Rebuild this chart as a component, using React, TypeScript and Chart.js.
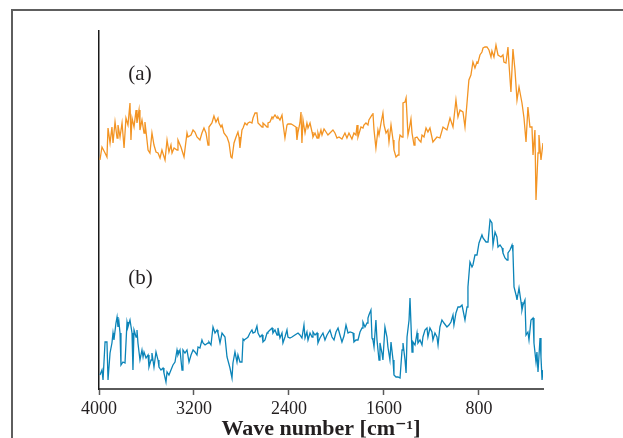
import React, { useEffect, useRef } from "react";
import { Chart, registerables } from "chart.js";

Chart.register(...registerables);

// Wavenumbers (cm^-1) and intensities (a.u.) for spectrum (a)
const waveA = [
  3992, 3975, 3949, 3933, 3924, 3907, 3891, 3882, 3865, 3848,
  3840, 3823, 3806, 3789, 3773, 3756, 3739, 3731, 3722, 3705,
  3688, 3680, 3663, 3655, 3638, 3621, 3613, 3596, 3587, 3571,
  3554, 3537, 3520, 3503, 3486, 3470, 3444, 3427, 3411, 3394,
  3385, 3368, 3343, 3335, 3310, 3284, 3259, 3251, 3225, 3208,
  3192, 3175, 3150, 3133, 3116, 3099, 3082, 3074, 3049, 3032,
  3015, 2998, 2990, 2973, 2964, 2948, 2922, 2905, 2889, 2880,
  2863, 2846, 2830, 2821, 2813, 2796, 2787, 2771, 2754, 2745,
  2729, 2712, 2703, 2686, 2670, 2661, 2644, 2627, 2619, 2602,
  2585, 2577, 2560, 2543, 2535, 2518, 2501, 2493, 2476, 2459,
  2451, 2434, 2417, 2409, 2383, 2367, 2341, 2333, 2324, 2308,
  2299, 2291, 2282, 2265, 2249, 2240, 2223, 2206, 2198, 2181,
  2164, 2156, 2147, 2131, 2122, 2105, 2088, 2072, 2055, 2030,
  2013, 1996, 1979, 1954, 1929, 1912, 1895, 1870, 1853, 1836,
  1827, 1819, 1794, 1777, 1769, 1752, 1735, 1727, 1701, 1693,
  1684, 1668, 1651, 1642, 1625, 1609, 1600, 1583, 1567, 1558,
  1541, 1524, 1516, 1499, 1482, 1474, 1465, 1448, 1440, 1423,
  1414, 1398, 1389, 1373, 1364, 1347, 1339, 1322, 1305, 1289,
  1280, 1263, 1246, 1230, 1213, 1188, 1154, 1129, 1103, 1070,
  1044, 1019, 994, 977, 960, 935, 918, 901, 885, 868,
  851, 834, 817, 809, 792, 775, 766, 750, 733, 716,
  699, 691, 674, 657, 640, 615, 598, 590, 573, 556,
  548, 531, 514, 497, 480, 463, 438, 421, 404, 388,
  371, 354, 345, 329, 320, 303, 295, 278, 261,
];
const intensityA = [
  229, 242, 236, 232, 261, 246, 262, 246, 267, 251,
  264, 252, 266, 241, 271, 264, 286, 249, 271, 262,
  279, 266, 279, 259, 269, 256, 267, 249, 239, 236,
  256, 244, 237, 236, 231, 239, 229, 249, 237, 244,
  236, 241, 239, 249, 242, 232, 256, 252, 254, 259,
  257, 252, 249, 256, 261, 256, 244, 262, 266, 273,
  267, 271, 266, 262, 264, 256, 252, 246, 232, 231,
  246, 252, 257, 252, 241, 259, 261, 266, 264, 266,
  267, 266, 271, 276, 276, 266, 264, 262, 266, 264,
  262, 266, 267, 272, 271, 274, 271, 272, 269, 274,
  266, 251, 264, 265, 265, 264, 262, 249, 257, 266,
  277, 246, 269, 256, 266, 261, 266, 257, 252, 256,
  251, 256, 252, 259, 254, 260, 257, 254, 256, 259,
  256, 251, 252, 250, 256, 251, 256, 250, 256, 254,
  264, 252, 262, 261, 264, 266, 264, 269, 274, 276,
  259, 241, 259, 254, 266, 276, 264, 256, 259, 247,
  264, 249, 239, 232, 234, 247, 254, 252, 286, 287,
  291, 254, 259, 270, 256, 244, 251, 252, 249, 247,
  254, 252, 261, 257, 261, 247, 252, 251, 262, 259,
  271, 262, 289, 272, 279, 277, 262, 286, 309, 314,
  327, 321, 327, 326, 334, 337, 341, 342, 342, 339,
  332, 338, 332, 344, 334, 332, 334, 327, 326, 342,
  326, 297, 340, 319, 289, 302, 286, 271, 247, 282,
  262, 262, 234, 259, 189, 236, 254, 229, 246,
];

// Wavenumbers (cm^-1) and intensities (a.u.) for spectrum (b)
const waveB = [
  3992, 3975, 3966, 3949, 3933, 3924, 3907, 3891, 3882, 3874,
  3857, 3848, 3840, 3832, 3823, 3815, 3798, 3781, 3764, 3756,
  3739, 3722, 3714, 3705, 3688, 3680, 3672, 3655, 3638, 3629,
  3621, 3604, 3587, 3579, 3562, 3554, 3537, 3520, 3503, 3495,
  3478, 3461, 3453, 3436, 3427, 3411, 3394, 3377, 3360, 3343,
  3335, 3318, 3301, 3293, 3276, 3259, 3242, 3225, 3208, 3192,
  3175, 3166, 3150, 3133, 3124, 3107, 3082, 3074, 3057, 3040,
  3023, 3006, 2998, 2981, 2964, 2956, 2939, 2922, 2914, 2897,
  2880, 2872, 2855, 2838, 2830, 2813, 2796, 2787, 2779, 2754,
  2745, 2729, 2712, 2703, 2686, 2670, 2661, 2644, 2627, 2619,
  2602, 2585, 2577, 2560, 2543, 2535, 2518, 2501, 2493, 2476,
  2459, 2451, 2434, 2417, 2409, 2392, 2375, 2350, 2324, 2308,
  2291, 2274, 2265, 2249, 2240, 2223, 2206, 2198, 2181, 2164,
  2156, 2139, 2114, 2097, 2080, 2055, 2038, 2021, 2004, 1987,
  1971, 1954, 1937, 1920, 1903, 1886, 1861, 1853, 1836, 1819,
  1802, 1785, 1777, 1760, 1743, 1735, 1727, 1710, 1701, 1693,
  1684, 1668, 1659, 1642, 1634, 1617, 1609, 1592, 1575, 1567,
  1550, 1541, 1524, 1516, 1499, 1482, 1465, 1448, 1440, 1423,
  1414, 1406, 1389, 1381, 1364, 1356, 1339, 1322, 1314, 1297,
  1280, 1272, 1255, 1238, 1230, 1213, 1196, 1188, 1171, 1154,
  1145, 1129, 1112, 1095, 1070, 1053, 1036, 1019, 1011, 994,
  977, 960, 943, 935, 918, 901, 893, 876, 859, 851,
  834, 817, 800, 775, 766, 741, 724, 707, 691, 682,
  665, 649, 640, 623, 606, 598, 581, 564, 556, 539,
  522, 514, 505, 488, 480, 463, 446, 438, 429, 413,
  404, 388, 379, 362, 345, 337, 320, 312, 303, 286,
  278, 269, 261,
];
const intensityB = [
  14, 19, 9, 47, 47, 9, 36, 46, 56, 49,
  66, 72, 62, 67, 56, 24, 27, 26, 67, 62,
  69, 56, 19, 59, 52, 59, 46, 29, 39, 32,
  37, 31, 34, 22, 29, 36, 22, 37, 29, 22,
  19, 21, 16, 7, 17, 14, 19, 24, 27, 39,
  34, 39, 19, 39, 36, 39, 27, 34, 39, 37,
  34, 42, 41, 49, 46, 44, 46, 47, 44, 62,
  56, 59, 56, 46, 56, 56, 52, 32, 32, 21,
  11, 26, 37, 27, 34, 27, 27, 50, 49, 51,
  52, 56, 59, 56, 57, 63, 56, 52, 54, 47,
  49, 56, 57, 59, 61, 56, 59, 54, 61, 51,
  56, 46, 52, 59, 52, 51, 52, 54, 56, 54,
  51, 64, 51, 57, 49, 56, 52, 57, 54, 56,
  46, 51, 56, 49, 54, 59, 52, 49, 57, 61,
  54, 47, 53, 64, 56, 57, 56, 47, 49, 49,
  57, 61, 67, 62, 66, 71, 74, 79, 51, 49,
  42, 69, 49, 29, 46, 36, 29, 62, 52, 42,
  29, 47, 29, 14, 12, 12, 11, 39, 46, 29,
  16, 52, 69, 91, 37, 47, 44, 56, 46, 49,
  44, 52, 59, 61, 52, 61, 57, 49, 56, 52,
  44, 62, 69, 66, 62, 64, 67, 74, 64, 76,
  82, 82, 84, 84, 69, 82, 102, 127, 122, 124,
  134, 134, 146, 154, 151, 147, 147, 169, 166, 144,
  157, 152, 142, 144, 141, 136, 131, 129, 136, 139,
  144, 137, 102, 94, 89, 101, 87, 79, 84, 89,
  54, 57, 49, 69, 71, 46, 27, 37, 17, 51,
  32, 9, 19,
];

const xTicks = [4000, 3200, 2400, 1600, 800];
const xMin = 261;
const xMax = 4000;
const yMin = 0;
const yMax = 358;

const panelLabels = ["(a)", "(b)"];
const panelLabelWave = [3655, 3650];
const panelLabelLevel = [315, 111];

const SERIF = '"Liberation Serif", "DejaVu Serif", serif';

function zip(xs: number[], ys: number[]) {
  const n = Math.min(xs.length, ys.length);
  const out: { x: number; y: number }[] = [];
  for (let i = 0; i < n; i++) out.push({ x: xs[i], y: ys[i] });
  return out;
}

const labelPlugin = {
  id: "panelLabels",
  afterDatasetsDraw(chart: any) {
    const { ctx, scales } = chart;
    ctx.save();
    ctx.font = `21px ${SERIF}`;
    ctx.fillStyle = "#231f20";
    ctx.textAlign = "center";
    ctx.textBaseline = "middle";
    panelLabels.forEach((t, i) => {
      ctx.fillText(
        t,
        scales.x.getPixelForValue(panelLabelWave[i]),
        scales.y.getPixelForValue(panelLabelLevel[i])
      );
    });
    ctx.restore();
  },
};

export default function App() {
  const canvasRef = useRef<HTMLCanvasElement | null>(null);

  useEffect(() => {
    if (!canvasRef.current) return;
    const chart = new Chart(canvasRef.current, {
      type: "line",
      data: {
        datasets: [
          {
            label: "(a)",
            data: zip(waveA, intensityA),
            borderColor: "#F39423",
            borderWidth: 1.3,
            pointRadius: 0,
            tension: 0,
            fill: false,
          },
          {
            label: "(b)",
            data: zip(waveB, intensityB),
            borderColor: "#0B84B8",
            borderWidth: 1.3,
            pointRadius: 0,
            tension: 0,
            fill: false,
          },
        ],
      },
      options: {
        responsive: false,
        animation: false,
        devicePixelRatio: 1,
        layout: { padding: { left: 99, top: 31, right: 80, bottom: 0 } },
        plugins: {
          legend: { display: false },
          tooltip: { enabled: false },
        },
        scales: {
          x: {
            type: "linear",
            reverse: true,
            min: xMin,
            max: xMax,
            afterBuildTicks: (scale: any) => {
              scale.ticks = xTicks.map((v) => ({ value: v }));
            },
            afterFit: (scale: any) => {
              scale.height = 49;
            },
            grid: {
              display: true,
              drawOnChartArea: false,
              drawTicks: true,
              tickLength: 6,
              color: "#5a5a5a",
              tickWidth: 1.5,
            },
            border: { display: true, color: "#5a5a5a", width: 2 },
            ticks: {
              padding: 3,
              color: "#231f20",
              font: { family: SERIF, size: 18 },
              maxRotation: 0,
              autoSkip: false,
              callback: (v: any) => String(v),
            },
            title: {
              display: true,
              text: "Wave number [cm\u207B\u00B9]",
              color: "#231f20",
              font: { family: SERIF, size: 22, weight: "bold" },
              padding: { top: 0, bottom: -5 },
            },
          },
          y: {
            type: "linear",
            min: yMin,
            max: yMax,
            afterFit: (scale: any) => {
              scale.width = 0;
            },
            grid: { display: false, drawTicks: false },
            border: { display: true, color: "#1a1a1a", width: 1.5 },
            ticks: { display: false },
          },
        },
      },
      plugins: [labelPlugin],
    } as any);
    return () => chart.destroy();
  }, []);

  return (
    <div
      style={{
        position: "fixed",
        left: 0,
        top: 0,
        width: 623,
        height: 438,
        background: "#ffffff",
        overflow: "hidden",
      }}
    >
      <div
        style={{
          position: "absolute",
          left: 11,
          top: 9,
          width: 700,
          height: 500,
          borderTop: "2px solid #5e5e5e",
          borderLeft: "2px solid #5e5e5e",
        }}
      />
      <canvas
        ref={canvasRef}
        width={623}
        height={438}
        style={{ position: "absolute", left: 0, top: 0, width: 623, height: 438 }}
      />
    </div>
  );
}
